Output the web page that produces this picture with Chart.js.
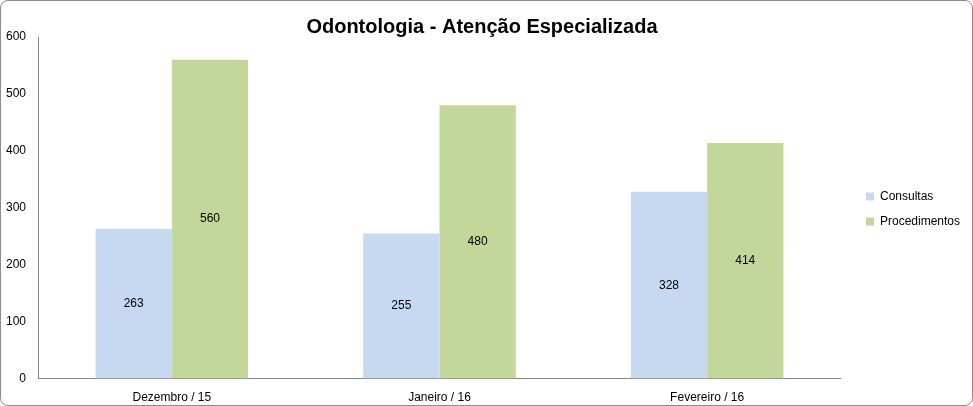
<!DOCTYPE html>
<html>
<head>
<meta charset="utf-8">
<script src="https://cdn.jsdelivr.net/npm/chart.js@4"></script>
<style>
  html, body { margin: 0; padding: 0; background: #fff; }
  #wrap {
    position: absolute; left: 0; top: 0;
    width: 971px; height: 404px;
    border: 1px solid #8c8c8c; border-radius: 8px;
    overflow: hidden;
  }
</style>
</head>
<body>
<div id="wrap"><canvas id="chart"></canvas></div>
<script>
var CATEGORIES = ['Dezembro / 15', 'Janeiro / 16', 'Fevereiro / 16'];
var CONSULTAS = [263, 255, 328];
var PROCEDIMENTOS = [560, 480, 414];
var Y_TICKS = [0, 100, 200, 300, 400, 500, 600];

var FONT = "'Liberation Sans', Arial, sans-serif";

// labels in the middle of each bar
var barLabels = {
  id: 'barLabels',
  afterDatasetsDraw: function (chart) {
    var ctx = chart.ctx;
    ctx.save();
    ctx.font = '12px ' + FONT;
    ctx.fillStyle = '#000';
    ctx.textAlign = 'center';
    ctx.textBaseline = 'middle';
    chart.data.datasets.forEach(function (ds, i) {
      chart.getDatasetMeta(i).data.forEach(function (bar, j) {
        ctx.fillText(ds.data[j], bar.x, (bar.y + bar.base) / 2);
      });
    });
    ctx.restore();
  }
};

var ctx = document.getElementById('chart').getContext('2d');

new Chart(ctx, {
  type: 'bar',
  data: {
    labels: CATEGORIES,
    datasets: [{
      label: 'Consultas',
      data: CONSULTAS,
      backgroundColor: '#c6d9f1'
    }, {
      label: 'Procedimentos',
      data: PROCEDIMENTOS,
      backgroundColor: '#c4d79b'
    }]
  },
  options: {
    maintainAspectRatio: false,
    animation: false,
    categoryPercentage: 0.57,
    barPercentage: 1,
    layout: { padding: { left: -7, right: 2, top: 0, bottom: -12 } },
    plugins: {
      title: {
        display: true,
        text: 'Odontologia - Atenção Especializada',
        color: '#000',
        font: { family: FONT, size: 20, weight: 'bold' },
        padding: { top: 14, bottom: -2 }
      },
      legend: {
        position: 'right',
        labels: {
          boxWidth: 8,
          boxHeight: 8,
          color: '#000',
          padding: 13,
          font: { family: FONT, size: 12 }
        }
      },
      tooltip: { enabled: false }
    },
    scales: {
      x: {
        grid: { display: false, drawTicks: false },
        border: { display: true, color: '#868686' },
        ticks: { color: '#000', padding: 12, font: { family: FONT, size: 12 } }
      },
      y: {
        min: Y_TICKS[0],
        max: Y_TICKS[Y_TICKS.length - 1],
        grid: { display: false, drawTicks: false },
        border: { display: true, color: '#868686' },
        afterBuildTicks: function (axis) {
          axis.ticks = Y_TICKS.map(function (v) { return { value: v }; });
        },
        ticks: { color: '#000', padding: 12, font: { family: FONT, size: 12 } }
      },
      // empty axis, only keeps a gap between the plot and the legend
      gap: {
        type: 'linear',
        position: 'right',
        grid: { display: false, drawTicks: false },
        border: { display: false },
        ticks: { display: false },
        afterFit: function (axis) { axis.width = 12; }
      }
    }
  },
  plugins: [barLabels]
});
</script>
</body>
</html>
